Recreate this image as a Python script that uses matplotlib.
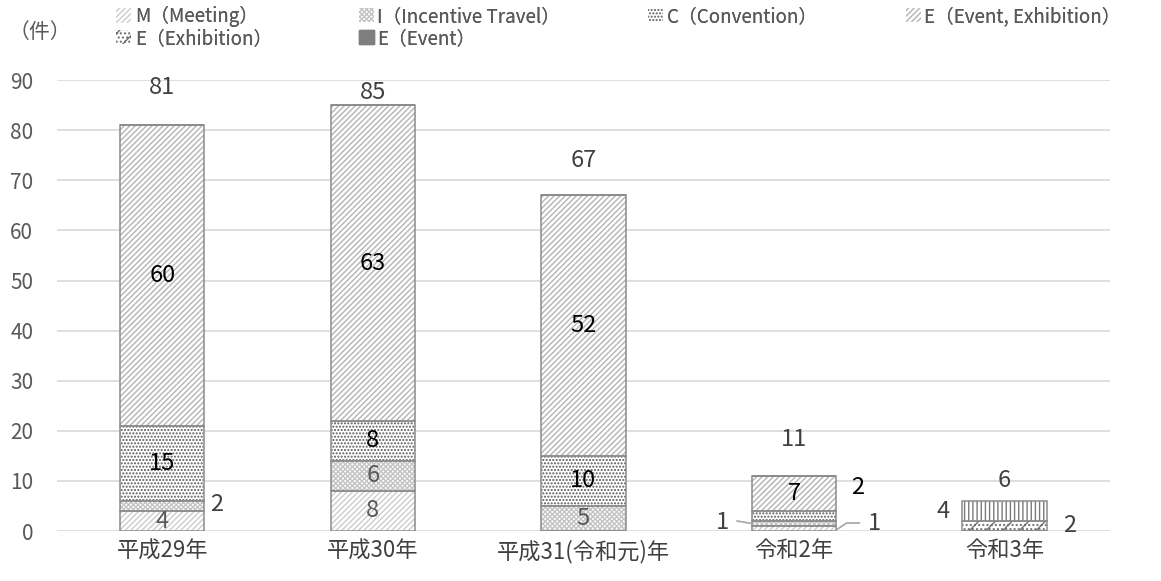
import numpy as np
import matplotlib.pyplot as plt
from matplotlib.patches import Patch

plt.rcParams['font.family'] = ['Noto Sans CJK JP', 'DejaVu Sans']
plt.rcParams['hatch.linewidth'] = 1.0

categories = ['平成29年', '平成30年', '平成31(令和元)年', '令和2年', '令和3年']
meeting = [4, 8, 0, 1, 0]
incentive = [2, 6, 5, 1, 0]
convention = [15, 8, 10, 2, 0]
event_exh = [60, 63, 52, 7, 0]
exhibition = [0, 0, 0, 0, 2]
event = [0, 0, 0, 0, 4]

names = ['M（Meeting）', 'I（Incentive Travel）', 'C（Convention）',
         'E（Event, Exhibition）', 'E（Exhibition）', 'E（Event）']
series = [meeting, incentive, convention, event_exh, exhibition, event]
hatches = ['//////', 'xxxxxxx', '.....', '//////', '//....', '||||']
hcolors = ['#cccccc', '#c4c4c4', '#5a5a5a', '#b4b4b4', '#707070', '#7a7a7a']
lab_colors = ['#595959', '#595959', 'black', 'black', '#595959', '#595959']

# labels moved outside the bar: (series idx, category idx) -> (dx, y)
outside = {(1, 0): (0.26, 5.2), (2, 3): (0.30, 8.6), (0, 3): (-0.34, 1.8),
           (1, 3): (0.38, 1.6), (5, 4): (-0.29, 3.8), (4, 4): (0.31, 1.2)}
total_dy = [7.5, 2.6, 7.0, 7.2, 4.0]

fig = plt.figure(figsize=(11.61, 5.81), dpi=100)
ax = fig.add_axes([0.049, 0.086, 0.907, 0.776])

x = np.arange(len(categories))
w = 0.4
bottom = np.zeros(len(categories))
for si, vals in enumerate(series):
    vals = np.array(vals, dtype=float)
    ax.bar(x, vals, w, bottom=bottom, color='white', edgecolor=hcolors[si],
           hatch=hatches[si], linewidth=0, zorder=2)
    ax.bar(x, vals, w, bottom=bottom, fill=False, edgecolor='#8c8c8c',
           linewidth=1.1, zorder=3)
    for ci, v in enumerate(vals):
        if v == 0:
            continue
        if (si, ci) in outside:
            dx, yy = outside[(si, ci)]
            ax.text(ci + dx, yy, str(int(v)), ha='center', va='center',
                    fontsize=17, color='#404040' if si != 2 else 'black', zorder=5)
        else:
            ax.text(ci, bottom[ci] + v / 2, str(int(v)), ha='center', va='center',
                    fontsize=17, color=lab_colors[si], zorder=5)
    bottom += vals

# leader lines for the two small 令和2年 labels
ax.plot([3 - 0.27, 3 - w / 2], [2.0, 1.5], color='#a6a6a6', lw=1.2, zorder=4)
ax.plot([3 + w / 2, 3 + 0.25, 3 + 0.31], [0.2, 1.6, 1.6], color='#a6a6a6', lw=1.2, zorder=4)

for ci, t in enumerate(bottom):
    ax.text(ci, t + total_dy[ci], str(int(t)), ha='center', va='center',
            fontsize=17, color='#404040')

ax.set_xlim(-0.5, len(categories) - 0.5)
ax.set_ylim(0, 90)
ax.set_yticks(np.arange(0, 91, 10))
ax.set_xticks(x)
ax.set_xticklabels(categories)
ax.grid(axis='y', color='#d9d9d9', lw=1.2, zorder=0)
ax.set_axisbelow(True)
for s in ax.spines.values():
    s.set_visible(False)
ax.tick_params(axis='y', length=0, pad=17, labelsize=15, labelcolor='#595959')
ax.tick_params(axis='x', length=0, pad=6, labelsize=16, labelcolor='#404040')

fig.text(0.034, 0.945, '（件）', fontsize=15, color='#595959', ha='center', va='center')

handles = [Patch(facecolor='white', edgecolor=hcolors[i], hatch=hatches[i], lw=0)
           for i in range(6)]
handles[5] = Patch(facecolor='#7f7f7f', edgecolor='#7f7f7f')

# legend laid out column by column, like the original
columns = [[0, 4], [1, 5], [2], [3]]
col_x = [0.100, 0.309, 0.558, 0.780]
for cols, cx in zip(columns, col_x):
    leg = fig.legend([handles[i] for i in cols], [names[i] for i in cols],
                     loc='upper left', bbox_to_anchor=(cx, 0.99), frameon=False,
                     fontsize=13.5, handlelength=0.8, handleheight=0.8,
                     handletextpad=0.2, labelspacing=0.05, borderpad=0,
                     borderaxespad=0, labelcolor='#595959')
    fig.add_artist(leg)

fig.savefig('out.png', dpi=100)
